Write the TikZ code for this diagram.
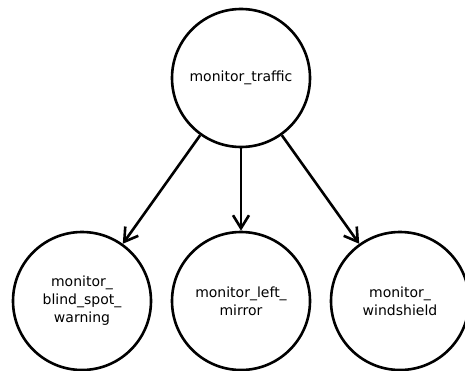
\documentclass[tikz,border=0pt]{standalone}
\usepackage{fontspec}
\setmainfont{DejaVu Sans}
\usetikzlibrary{positioning,arrows.meta}
\tikzset{
  task/.style={draw, circle, line width=2.6pt, minimum size=138pt, inner sep=0pt,
    align=center, font=\fontsize{14}{18}\selectfont},
  >={Straight Barb[length=13pt,width=16pt,line width=2.6pt]}
}
\begin{document}
\begin{tikzpicture}[line width=2.6pt, node distance=159pt]
  \useasboundingbox (0,0) rectangle (465pt,370pt);
  \node (traffic) [task] at (241pt,292pt) {monitor\_traffic};
  \node (mirror)  [task, below of=traffic, node distance=223pt] {monitor\_left\_\\mirror};
  \node (blind)   [task, left of=mirror]  {monitor\_\\blind\_spot\_\\warning};
  \node (wind)    [task, right of=mirror] {monitor\_\\windshield};

  \draw [->] (traffic) to (blind);
  \draw [->] (traffic) to (mirror);
  \draw [->] (traffic) to (wind);
\end{tikzpicture}
\end{document}
